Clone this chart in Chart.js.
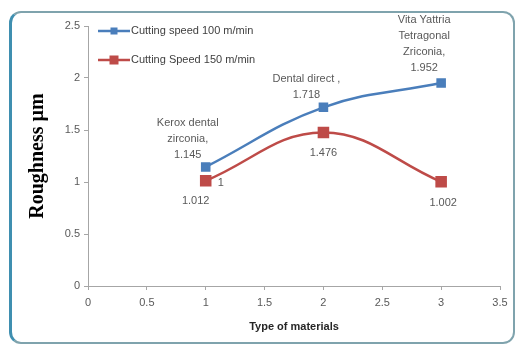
<!DOCTYPE html>
<html>
<head>
<meta charset="utf-8">
<script src="https://cdn.jsdelivr.net/npm/chart.js@4"></script>
<style>
  html, body { margin: 0; padding: 0; background: #fff; }
  #wrap { position: relative; width: 520px; height: 347px; }
  #frame {
    position: absolute; left: 9px; top: 11px; width: 501px; height: 329px;
    border: 2px solid #7fa3ad; border-left: 3px solid #3f8fb0;
    border-radius: 12px; background: #fff;
  }
  #chart { position: absolute; left: 0; top: 0; }
</style>
</head>
<body>
<div id="wrap">
  <div id="frame"></div>
  <canvas id="chart" width="520" height="347"></canvas>
</div>
<script>
const materials = [1, 2, 3];
const speed100 = [1.145, 1.718, 1.952];
const speed150 = [1.012, 1.476, 1.002];
const text100 = [
    ['Kerox dental', 'zirconia,', '1.145'],
    ['Dental direct ,', '1.718'],
    ['Vita Yattria', 'Tetragonal', 'Zriconia,', '1.952']
];
const text150 = [['1.012'], ['1.476'], ['1.002']];
const seriesNames = ['Cutting speed 100 m/min', 'Cutting Speed 150 m/min'];

const blue = '#4a7ebb';
const red = '#be4b48';
const labelFont = '11px "Liberation Sans", Arial, sans-serif';
const grey = '#595959';

// where each data label sits relative to its point
const labelPlace = [
    [{ dx: -18, dy: -12 }, { dx: -17, dy: -12 }, { dx: -17, dy: -15 }],
    [{ dx: -10, dy: 20 }, { dx: 0, dy: 20 }, { dx: 2, dy: 21 }]
];

const pointLabels = {
    id: 'pointLabels',
    afterDatasetsDraw(chart) {
        const ctx = chart.ctx;
        ctx.save();
        ctx.font = labelFont;
        ctx.fillStyle = grey;
        ctx.textAlign = 'center';
        ctx.textBaseline = 'middle';
        const texts = [text100, text150];
        chart.data.datasets.forEach((ds, di) => {
            const meta = chart.getDatasetMeta(di);
            meta.data.forEach((pt, i) => {
                const lines = texts[di][i];
                const p = labelPlace[di][i];
                const x = pt.x + p.dx;
                if (p.dy < 0) {
                    lines.forEach((line, k) => {
                        ctx.fillText(line, x, pt.y + p.dy - (lines.length - 1 - k) * 16);
                    });
                } else {
                    lines.forEach((line, k) => {
                        ctx.fillText(line, x, pt.y + p.dy + k * 16);
                    });
                }
            });
        });
        // stray label next to the first red point
        const first = chart.getDatasetMeta(1).data[0];
        ctx.fillText('1', first.x + 15, first.y + 2);
        ctx.restore();
    }
};

const insideLegend = {
    id: 'insideLegend',
    afterDraw(chart) {
        const ctx = chart.ctx;
        const area = chart.chartArea;
        ctx.save();
        ctx.font = labelFont;
        ctx.textBaseline = 'middle';
        chart.data.datasets.forEach((ds, i) => {
            const y = area.top + 5 + i * 29;
            const x0 = area.left + 10;
            ctx.strokeStyle = ds.borderColor;
            ctx.lineWidth = 2.5;
            ctx.beginPath();
            ctx.moveTo(x0, y);
            ctx.lineTo(x0 + 32, y);
            ctx.stroke();
            const s = i === 0 ? 3.5 : 4.5;
            ctx.fillStyle = ds.backgroundColor;
            ctx.fillRect(x0 + 16 - s, y - s, s * 2, s * 2);
            ctx.fillStyle = '#404040';
            ctx.fillText(ds.label, x0 + 33, y);
        });
        ctx.restore();
    }
};

const plainNumber = (v) => String(v);

new Chart(document.getElementById('chart'), {
    type: 'line',
    data: {
        datasets: [
            {
                label: seriesNames[0],
                data: materials.map((m, i) => ({ x: m, y: speed100[i] })),
                borderColor: blue,
                backgroundColor: blue,
                borderWidth: 2.5,
                pointStyle: 'rect',
                pointRadius: 5,
                tension: 0.4
            },
            {
                label: seriesNames[1],
                data: materials.map((m, i) => ({ x: m, y: speed150[i] })),
                borderColor: red,
                backgroundColor: red,
                borderWidth: 2.5,
                pointStyle: 'rect',
                pointRadius: 6.4,
                tension: 0.4
            }
        ]
    },
    options: {
        responsive: false,
        animation: false,
        layout: { padding: { top: 26, right: 20, bottom: 0, left: 0 } },
        plugins: { legend: { display: false }, tooltip: { enabled: false } },
        scales: {
            x: {
                type: 'linear',
                min: 0,
                max: 3.5,
                ticks: { stepSize: 0.5, callback: plainNumber, color: grey, font: { family: '"Liberation Sans", Arial, sans-serif', size: 11 }, padding: 6, maxRotation: 0 },
                grid: { drawOnChartArea: false, tickLength: 4, color: '#a6a6a6' },
                border: { color: '#a6a6a6' },
                title: {
                    display: true,
                    text: 'Type of materials',
                    color: '#262626',
                    font: { family: '"Liberation Sans", Arial, sans-serif', size: 11, weight: 'bold' },
                    padding: { top: 0, bottom: 13 }
                },
                afterFit(scale) { scale.height = 61; }
            },
            y: {
                min: 0,
                max: 2.5,
                ticks: { stepSize: 0.5, callback: plainNumber, color: grey, font: { family: '"Liberation Sans", Arial, sans-serif', size: 11 }, padding: 4 },
                grid: { drawOnChartArea: false, tickLength: 4, color: '#a6a6a6' },
                border: { color: '#a6a6a6' },
                title: {
                    display: true,
                    text: 'Roughness µm',
                    color: '#000',
                    font: { family: '"Liberation Serif", "Times New Roman", serif', size: 20, weight: 'bold' },
                    padding: { top: 26, bottom: 0 }
                },
                afterFit(scale) { scale.width = 88; }
            }
        }
    },
    plugins: [pointLabels, insideLegend]
});
</script>
</body>
</html>
